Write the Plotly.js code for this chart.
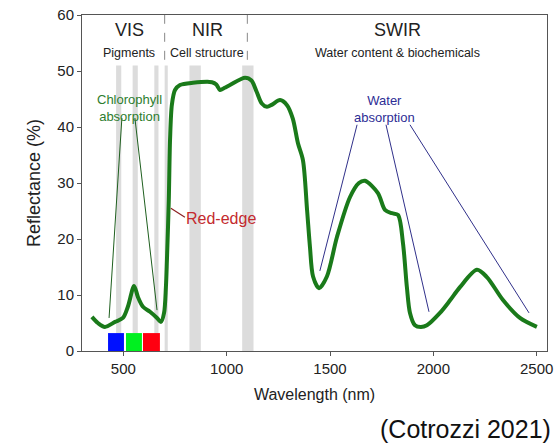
<!DOCTYPE html>
<html>
<head>
<meta charset="utf-8">
<script src="https://cdn.plot.ly/plotly-3.0.1.min.js"></script>
<style>html,body{margin:0;padding:0;background:#fff;}#chart{width:557px;height:443px;}</style>
</head>
<body>
<div id="chart"></div>
<script>
// Reflectance spectrum
const wavelength = [348, 377, 411, 460, 498, 522, 552, 571, 595, 629, 663, 682, 697, 706, 711, 720, 726, 735, 750, 774, 837, 929, 950, 968, 990, 1016, 1089, 1120, 1145, 1170, 1195, 1220, 1258, 1292, 1320, 1345, 1369, 1389, 1403, 1418, 1447, 1485, 1534, 1597, 1640, 1669, 1732, 1766, 1800, 1829, 1853, 1872, 1887, 1911, 1940, 1969, 2032, 2080, 2129, 2211, 2259, 2337, 2419, 2501];
const reflectance = [6.1, 5.0, 4.3, 5.2, 5.9, 7.9, 11.6, 9.6, 7.9, 7.0, 5.9, 5.2, 6.8, 11.4, 16.3, 27, 37.7, 44, 46.6, 47.5, 47.9, 48.0, 47.6, 46.6, 47.0, 47.5, 48.8, 48.3, 46.3, 44.2, 43.6, 44.0, 44.8, 43.9, 41.5, 37.1, 34.1, 25.2, 18.6, 13.3, 11.2, 13.3, 20.4, 27.5, 30.0, 30.4, 28.2, 25.2, 24.6, 24.3, 19.3, 11.4, 6.8, 4.6, 4.3, 4.6, 6.8, 9.0, 11.4, 14.5, 13.2, 9.1, 5.9, 4.3];

// Grey bands (nm start / end) and their top value
const bandStart = [465, 545, 650, 700, 820, 1075];
const bandEnd   = [490, 570, 670, 715, 875, 1130];
const bandTop = 51;

// Region dividers
const dividerX = [700, 1100];
const dividerFrom = 52;

// Colour boxes (blue, green, red)
const boxStart = [426, 513, 595];
const boxEnd   = [503, 590, 677];
const boxTop = 3.2;
const boxColor = ['#0010ff', '#00f020', '#ff0010'];

// Region labels
const regionName = ['VIS', 'NIR', 'SWIR'];
const regionSub = ['Pigments', 'Cell structure', 'Water content &amp; biochemicals'];
const regionX = [528, 905, 1829];

// Pointer lines [x0, y0, x1, y1]
const chloroLines = [[493, 41.6, 431, 5.9], [556, 41.6, 663, 7.3]];
const redEdgeLine = [730, 25.5, 798, 23.9];
const waterLines = [[1631, 40.4, 1451, 14.3], [1771, 40.4, 1979, 7.0], [1887, 40.4, 2463, 6.8]];

const xTicks = [500, 1000, 1500, 2000, 2500];
const yTicks = [0, 10, 20, 30, 40, 50, 60];

const FONT = 'Liberation Sans, Arial, sans-serif';
const shapes = [];
bandStart.forEach((s, i) => shapes.push({type: 'rect', xref: 'x', yref: 'y', x0: s, x1: bandEnd[i], y0: 0, y1: bandTop, fillcolor: '#dcdcdc', line: {width: 0}, layer: 'below'}));
dividerX.forEach(x => shapes.push({type: 'line', xref: 'x', yref: 'y', x0: x, x1: x, y0: dividerFrom, y1: 60, line: {color: '#888', width: 1, dash: 'dash'}}));
boxStart.forEach((s, i) => shapes.push({type: 'rect', xref: 'x', yref: 'y', x0: s, x1: boxEnd[i], y0: 0, y1: boxTop, fillcolor: boxColor[i], line: {width: 0}}));
chloroLines.forEach(l => shapes.push({type: 'line', xref: 'x', yref: 'y', x0: l[0], y0: l[1], x1: l[2], y1: l[3], line: {color: '#1f5f1f', width: 1}}));
shapes.push({type: 'line', xref: 'x', yref: 'y', x0: redEdgeLine[0], y0: redEdgeLine[1], x1: redEdgeLine[2], y1: redEdgeLine[3], line: {color: '#8b2020', width: 1.2}});
waterLines.forEach(l => shapes.push({type: 'line', xref: 'x', yref: 'y', x0: l[0], y0: l[1], x1: l[2], y1: l[3], line: {color: '#30308a', width: 1}}));

const annotations = [];
regionName.forEach((n, i) => {
  annotations.push({x: regionX[i], y: 57.3, xref: 'x', yref: 'y', text: n, showarrow: false, font: {family: FONT, size: 18, color: '#222'}});
  annotations.push({x: regionX[i], y: 53.3, xref: 'x', yref: 'y', text: regionSub[i], showarrow: false, font: {family: FONT, size: 12.5, color: '#222'}});
});
annotations.push({x: 532, y: 43.4, xref: 'x', yref: 'y', text: 'Chlorophyll<br>absorption', showarrow: false, font: {family: FONT, size: 13, color: '#2e7d2e'}});
annotations.push({x: 973, y: 23.6, xref: 'x', yref: 'y', text: 'Red-edge', showarrow: false, font: {family: FONT, size: 16, color: '#c42a2e'}});
annotations.push({x: 1766, y: 43.3, xref: 'x', yref: 'y', text: 'Water<br>absorption', showarrow: false, font: {family: FONT, size: 13, color: '#2d2d95'}});
annotations.push({x: 1 + (553 - 547) / 465, y: -(429 - 351) / 336, xref: 'paper', yref: 'paper', text: '(Cotrozzi 2021)', showarrow: false, xanchor: 'right', yanchor: 'middle', font: {family: FONT, size: 25, color: '#111'}});

const trace = {x: wavelength, y: reflectance, type: 'scatter', mode: 'lines', line: {color: '#1a7a1a', width: 4, shape: 'spline', smoothing: 0.85}, hoverinfo: 'skip'};

const layout = {
  width: 557, height: 443,
  margin: {l: 82, r: 10, t: 15, b: 92, pad: 0},
  paper_bgcolor: '#fff', plot_bgcolor: '#fff',
  showlegend: false,
  font: {family: FONT, size: 15, color: '#222'},
  xaxis: {range: [300, 2550], tickvals: xTicks, ticks: 'outside', ticklen: 4, tickcolor: '#555', showline: true, mirror: true, linecolor: '#555', linewidth: 1, showgrid: false, zeroline: false,
    tickfont: {family: FONT, size: 15, color: '#222'},
    title: {text: 'Wavelength (nm)', font: {family: FONT, size: 16, color: '#222'}, standoff: 12}},
  yaxis: {range: [0, 60], tickvals: yTicks, ticks: 'outside', ticklen: 4, tickcolor: '#555', showline: true, mirror: true, linecolor: '#555', linewidth: 1, showgrid: false, zeroline: false,
    tickfont: {family: FONT, size: 15, color: '#222'},
    title: {text: 'Reflectance (%)', font: {family: FONT, size: 18, color: '#222'}, standoff: 12}},
  shapes: shapes,
  annotations: annotations
};

Plotly.newPlot('chart', [trace], layout, {staticPlot: true, displayModeBar: false});
</script>
</body>
</html>
